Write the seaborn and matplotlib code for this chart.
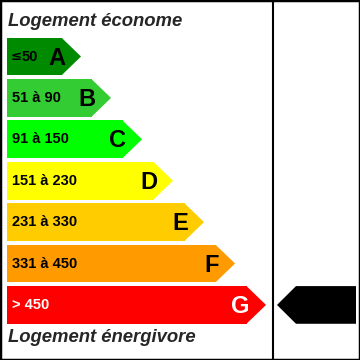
import matplotlib
matplotlib.use('Agg')
import matplotlib.pyplot as plt
import pandas as pd
import seaborn as sns
from matplotlib.patches import Polygon

classes = ['A', 'B', 'C', 'D', 'E', 'F', 'G']
ranges = ['≤50', '51 à 90', '91 à 150', '151 à 230', '231 à 330', '331 à 450', '> 450']
bar_lengths = [55, 85, 116, 147, 178, 209, 240]
colors = ['#008a00', '#33cc33', '#00ff00', '#ffff00', '#ffcc00', '#ff9a00', '#ff0000']
text_colors = ['black', 'black', 'black', 'black', 'black', 'black', 'white']
rating = 'G'

df = pd.DataFrame({'classe': classes, 'longueur': bar_lengths})

sns.set_style('white')
plt.rcParams['font.family'] = ['Liberation Sans', 'DejaVu Sans']

fig = plt.figure(figsize=(3.6, 3.6), dpi=100)
ax = fig.add_axes([0, 0, 1, 1])

h = 0.91
tip = 19
sns.barplot(data=df, x='longueur', y='classe', hue='classe', palette=colors,
            saturation=1, width=h, legend=False, ax=ax, linewidth=0)

for i, (length, col) in enumerate(zip(bar_lengths, colors)):
    ax.add_patch(Polygon([(length - 0.5, i - h / 2), (length + tip, i), (length - 0.5, i + h / 2)],
                         closed=True, facecolor=col, edgecolor='none'))
    label = ranges[i]
    x0 = 5
    if label.startswith('≤'):
        # the Liberation glyph is tiny, draw it in DejaVu
        ax.text(x0 - 1, i, '≤', ha='left', va='center', fontsize=9.5,
                fontweight='bold', color=text_colors[i], family='DejaVu Sans')
        label = label[1:]
        x0 += 10
    ax.text(x0, i, label, ha='left', va='center', fontsize=10.5,
            fontweight='bold', color=text_colors[i])
    ax.text(length + 3, i + 0.04, classes[i], ha='right', va='center', fontsize=17,
            fontweight='bold', color=text_colors[i])

# arrow for the rating
r = classes.index(rating)
ax.add_patch(Polygon([(270, r), (289, r - h / 2), (349, r - h / 2), (349, r + h / 2), (289, r + h / 2)],
                     closed=True, facecolor='black', edgecolor='none'))

ax.axvline(266, color='black', lw=1.5)

ax.set_xlim(-7, 353)
ax.set_ylim(7.33, -1.365)
ax.set_xticks([])
ax.set_yticks([])
ax.set_xlabel('')
ax.set_ylabel('')
for s in ax.spines.values():
    s.set_visible(True)
    s.set_color('black')
    s.set_linewidth(2.5)

fig.text(8 / 360, 1 - 21.5 / 360, 'Logement économe', ha='left', va='center',
         fontsize=13.3, fontweight='bold', fontstyle='italic')
fig.text(8 / 360, 1 - 337 / 360, 'Logement énergivore', ha='left', va='center',
         fontsize=13.3, fontweight='bold', fontstyle='italic')

fig.savefig('out.png', dpi=100)
